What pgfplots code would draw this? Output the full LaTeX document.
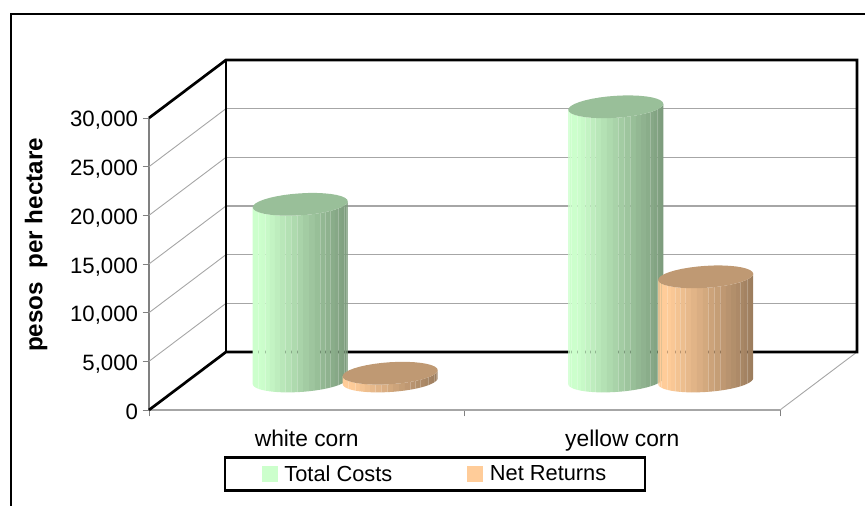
\documentclass[border=0pt]{standalone}
\usepackage{fontspec}
\setmainfont{Liberation Sans}
\usepackage{pgfplots}
\usepackage{pgfplotstable}
\pgfplotsset{compat=1.18}
\definecolor{cgreen}{HTML}{CCFFCC}
\definecolor{cgreentop}{HTML}{99BF99}
\definecolor{corange}{HTML}{FFCC99}
\definecolor{corangetop}{HTML}{BF9973}
\definecolor{wallgray}{HTML}{A6A6A6}
\definecolor{axisgray}{HTML}{808080}
\pgfplotstableread{
x Costs Returns
0.5 18150 800
1.5 28170 10700
}\cropdata
% #1 x position of the cylinder, #2 row, #3 column, #4 side colour, #5 top colour
\newcommand\cyl[5]{%
  \pgfplotstablegetelem{#2}{#3}\of\cropdata
  \let\cylval\pgfplotsretval
  \begingroup
    \pgfkeys{/pgf/fpu=true,/pgf/fpu/output format=fixed}%
    \pgfmathparse{\cylval/1000+2.98}%
    \xdef\cyltop{\pgfmathresult}%
  \endgroup
  \foreach \fidx in {0,...,24}{%
    \pgfmathsetmacro\tha{180+7.2*\fidx}%
    \pgfmathsetmacro\thb{\tha+7.2}%
    \pgfmathsetmacro\xxa{#1+0.1506*cos(\tha)}%
    \pgfmathsetmacro\xxb{#1+0.1506*cos(\thb)}%
    \pgfmathsetmacro\oya{1.13*sin(\tha)+0.308*cos(\tha)}%
    \pgfmathsetmacro\oyb{1.13*sin(\thb)+0.308*cos(\thb)}%
    \pgfmathsetmacro\boa{2.98+\oya}%
    \pgfmathsetmacro\bob{2.98+\oyb}%
    \pgfmathsetmacro\toa{\cyltop+\oya}%
    \pgfmathsetmacro\tob{\cyltop+\oyb}%
    \pgfmathsetmacro\uuu{(cos(\tha)+cos(\thb))/4+0.5}%
    \pgfmathsetmacro\pct{100*(1-0.39*max(0,(\uuu-0.1)/0.9))}%
    \edef\tmpplot{\noexpand\addplot[forget plot,draw=none,fill=#4!\pct!black] coordinates {(\xxa,\boa e3)(\xxb,\bob e3)(\xxb,\tob e3)(\xxa,\toa e3)} --cycle;}%
    \tmpplot
  }%
  \gdef\cylpts{}%
  \foreach \thv in {0,10,...,350}{%
    \pgfmathsetmacro\xxa{#1+0.1506*cos(\thv)}%
    \pgfmathsetmacro\toa{\cyltop+1.13*sin(\thv)+0.308*cos(\thv)}%
    \xdef\cylpts{\cylpts (\xxa,\toa e3)}%
  }%
  \edef\tmpplot{\noexpand\addplot[forget plot,draw=none,fill=#5] coordinates {\cylpts} --cycle;}%
  \tmpplot
}
\begin{document}
\begin{tikzpicture}
\useasboundingbox (0,0) rectangle (865bp,506bp);
\draw[line width=2.7bp,miter limit=10] (11bp,0bp) -- (11bp,492bp) -- (865bp,492bp);
\node[rotate=90,font=\fontsize{24.2bp}{26bp}\selectfont\bfseries] at (36bp,261bp) {pesos\ \ per hectare};
\begin{axis}[
  at={(149bp,96bp)},anchor=south west,
  scale only axis,width=631bp,height=292bp,
  xmin=0,xmax=2,ymin=0,ymax=30000,clip=false,
  axis x line*=bottom,axis y line*=left,
  x axis line style={-,color=wallgray,line width=1.3bp},
  y axis line style={-,color=axisgray,line width=2bp},
  tick align=outside,major tick length=6.5bp,
  tick style={color=axisgray,line width=0.8bp},
  ytick={0,5000,...,30000},
  scaled y ticks=false,
  yticklabel style={font=\fontsize{22.2bp}{24bp}\selectfont,xshift=-1bp,yshift=-1bp,text height=16bp,text depth=0pt,
    /pgf/number format/fixed,/pgf/number format/1000 sep={,},/pgf/number format/assume math mode=true},
  xtick={0,1,2},xticklabels={},
  extra x ticks={0.5,1.5},
  extra x tick labels={white corn,yellow corn},
  extra x tick style={major tick length=0pt,
    xticklabel style={font=\fontsize{22.8bp}{24bp}\selectfont,text height=15bp,text depth=4.5bp,anchor=north,yshift=-18bp}},
  legend columns=2,
  legend cell align=left,
  legend style={at={(axis cs:0.9065,-6560)},anchor=center,draw=black,line width=2.7bp,
    font=\fontsize{21.8bp}{24bp}\selectfont,inner xsep=36.7bp,inner ysep=6bp,
    nodes={xshift=2.5bp,yshift=-1.5bp},
    /tikz/every even column/.append style={column sep=73bp},
    /tikz/every odd column/.append style={column sep=4.7bp}},
  legend image code/.code={\fill[#1,draw=none] (0bp,-9.5bp) rectangle (16bp,6.5bp);},
]
\addlegendimage{fill=cgreen}\addlegendentry{Total Costs}
\addlegendimage{fill=corange}\addlegendentry{Net Returns}
% side wall grid lines
\addplot[forget plot,color=wallgray,line width=0.9bp] coordinates {(0,5000)(0.244,10959)};
\addplot[forget plot,color=wallgray,line width=0.9bp] coordinates {(0,10000)(0.244,15959)};
\addplot[forget plot,color=wallgray,line width=0.9bp] coordinates {(0,15000)(0.244,20959)};
\addplot[forget plot,color=wallgray,line width=0.9bp] coordinates {(0,20000)(0.244,25959)};
\addplot[forget plot,color=wallgray,line width=0.9bp] coordinates {(0,25000)(0.244,30959)};
% back wall grid lines
\addplot[forget plot,color=wallgray,line width=1.4bp] coordinates {(0.244,10959)(2.244,10959)};
\addplot[forget plot,color=wallgray,line width=1.4bp] coordinates {(0.244,15959)(2.244,15959)};
\addplot[forget plot,color=wallgray,line width=1.4bp] coordinates {(0.244,20959)(2.244,20959)};
\addplot[forget plot,color=wallgray,line width=1.4bp] coordinates {(0.244,25959)(2.244,25959)};
\addplot[forget plot,color=wallgray,line width=1.4bp] coordinates {(0.244,30959)(2.244,30959)};
% floor right edge
\addplot[forget plot,color=wallgray,line width=0.9bp] coordinates {(2,0)(2.244,5959)};
% black outline of the walls
\addplot[forget plot,black,line width=2.7bp] coordinates {(0,30000)(0.244,35959)(2.244,35959)(2.244,5959)(0.244,5959)(0,0)};
\addplot[forget plot,black,line width=2.7bp] coordinates {(0.244,35959)(0.244,5959)};
% cylinders
\cyl{0.4794}{0}{Costs}{cgreen}{cgreentop}
\cyl{0.7646}{0}{Returns}{corange}{corangetop}
\cyl{1.4794}{1}{Costs}{cgreen}{cgreentop}
\cyl{1.7646}{1}{Returns}{corange}{corangetop}
\end{axis}
\end{tikzpicture}
\end{document}
